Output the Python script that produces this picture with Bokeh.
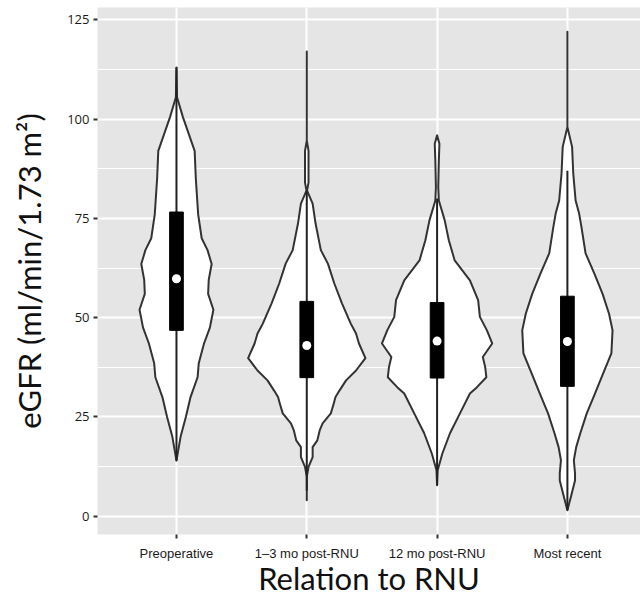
import numpy as np
from bokeh.plotting import figure
from bokeh.models import Range1d, FixedTicker, ColumnDataSource
from bokeh.embed import file_html
from bokeh.resources import INLINE

# ---------------- data ----------------
categories = ["Preoperative", "1\u20133 mo post-RNU", "12 mo post-RNU", "Most recent"]
y_ticks = [0, 25, 50, 75, 100, 125]
y_minor = [12.5, 37.5, 62.5, 87.5, 112.5]

# violin outlines: eGFR level and relative density (1 = widest violin)
preop_levels = [14, 20, 25, 30, 35, 38.5, 43.5, 47.5, 52, 56, 59.5, 63.5, 67, 70, 76, 85, 92, 100.5, 105.5, 113]
preop_density = [0, 0.07, 0.16, 0.24, 0.36, 0.38, 0.47, 0.57, 0.63, 0.54, 0.55, 0.60, 0.53, 0.43, 0.37, 0.33, 0.31, 0.11, 0.01, 0]

m13_levels = [4, 9.9, 12.4, 14.9, 17.4, 19.1, 21.6, 23.4, 25.9, 28.4, 30, 31.7, 34.2, 36.7, 39.8, 43.5, 46, 48.5, 53.6, 58.6, 63.6, 67, 73.7, 78.7, 82, 84, 92, 94.6, 117]
m13_density = [0, 0, 0.03, 0.10, 0.10, 0.18, 0.22, 0.27, 0.41, 0.46, 0.49, 0.56, 0.67, 0.84, 1.0, 0.89, 0.84, 0.75, 0.60, 0.47, 0.36, 0.24, 0.15, 0.10, 0.005, 0.03, 0.03, 0, 0]

m12_levels = [7.8, 11.6, 15.8, 20.9, 25.9, 30.9, 32.5, 35, 37.6, 40.1, 43.5, 46.8, 50.2, 54.4, 59.4, 64.4, 69.5, 74.5, 79.5, 82.9, 89.6, 93.8, 95.9]
m12_density = [0, 0.01, 0.09, 0.22, 0.39, 0.56, 0.68, 0.84, 0.82, 0.78, 0.94, 0.85, 0.73, 0.70, 0.56, 0.30, 0.20, 0.13, 0.03, 0.02, 0.03, 0.04, 0]

recent_levels = [1.5, 4.9, 9, 10.8, 14.1, 17.4, 20.9, 25.9, 30.9, 36, 41, 46.8, 51, 56, 61.1, 66.2, 72.8, 76.2, 79.5, 86.3, 93, 98, 122]
recent_density = [0, 0.06, 0.13, 0.13, 0.11, 0.15, 0.22, 0.33, 0.47, 0.61, 0.75, 0.77, 0.71, 0.60, 0.46, 0.31, 0.24, 0.20, 0.14, 0.10, 0.08, 0, 0]

# box plot statistics
q1 = [46.8, 34.9, 34.8, 32.7]
median = [59.8, 43.0, 44.1, 44.0]
q3 = [76.6, 54.1, 53.8, 55.4]
whisker_low = [14.0, 6.5, 7.8, 1.5]
whisker_high = [113.0, 82.0, 80.0, 87.0]

# ---------------- figure ----------------
p = figure(width=640, height=601, output_backend="svg", toolbar_location=None,
           x_range=Range1d(-0.606, 3.561), y_range=Range1d(-4.6, 128.1),
           min_border_left=97, min_border_right=0, min_border_top=7, min_border_bottom=67)
p.background_fill_color = "#E5E5E5"
p.border_fill_color = "white"
p.outline_line_color = None

p.yaxis.ticker = FixedTicker(ticks=y_ticks, minor_ticks=y_minor)
p.xaxis.ticker = FixedTicker(ticks=list(range(len(categories))))
p.xaxis.major_label_overrides = {i: c for i, c in enumerate(categories)}

p.ygrid.grid_line_color = "white"
p.ygrid.grid_line_width = 2
p.ygrid.minor_grid_line_color = "white"
p.ygrid.minor_grid_line_width = 1
p.xgrid.grid_line_color = "white"
p.xgrid.grid_line_width = 2

for ax in (p.xaxis[0], p.yaxis[0]):
    ax.axis_line_color = None
    ax.major_tick_in = 0
    ax.major_tick_out = 4
    ax.major_tick_line_color = "#333333"
    ax.major_tick_line_width = 2
    ax.minor_tick_line_color = None
    ax.major_label_text_color = "#1a1a1a"

p.yaxis.major_label_text_font = "Open Sans"
p.yaxis.major_label_text_font_size = "13px"
p.yaxis.major_label_standoff = 4
p.xaxis.major_label_text_font = "Liberation Sans"
p.xaxis.major_label_text_font_size = "13px"
p.xaxis.major_label_standoff = 7

p.yaxis.axis_label = "eGFR (ml/min/1.73 m\u00b2)"
p.xaxis.axis_label = "Relation to RNU"
for ax in (p.xaxis[0], p.yaxis[0]):
    ax.axis_label_text_font = "Lato"
    ax.axis_label_text_font_size = "31px"
    ax.axis_label_text_font_style = "normal"
    ax.axis_label_text_color = "#111111"
p.yaxis.axis_label_standoff = 16
p.xaxis.axis_label_standoff = -5

# violins
half_max = 0.45
all_levels = [preop_levels, m13_levels, m12_levels, recent_levels]
all_density = [preop_density, m13_density, m12_density, recent_density]
xs, ys = [], []
for i, (lv, dn) in enumerate(zip(all_levels, all_density)):
    lv = np.asarray(lv, float)
    dn = np.asarray(dn, float) * half_max
    xs.append(np.concatenate([i + dn, (i - dn)[::-1]]).tolist())
    ys.append(np.concatenate([lv, lv[::-1]]).tolist())
p.patches(xs=xs, ys=ys, fill_color="white", line_color="#333333", line_width=2, line_join="round")

# box plots
pos = list(range(len(categories)))
src = ColumnDataSource(dict(x=pos, q1=q1, q3=q3, med=median, lo=whisker_low, hi=whisker_high))
p.segment(x0="x", y0="lo", x1="x", y1="hi", source=src, line_color="#222222", line_width=2)
p.vbar(x="x", bottom="q1", top="q3", width=0.105, source=src, fill_color="black", line_color="black")
p.scatter(x="x", y="med", source=src, size=9, fill_color="white", line_color=None)

open("out.html", "w").write(file_html(p, INLINE))
